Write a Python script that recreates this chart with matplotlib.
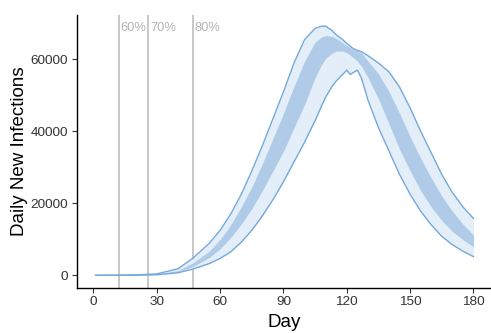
import matplotlib
matplotlib.use("Agg")
import matplotlib.pyplot as plt

plt.rcParams['font.family'] = ['Liberation Sans', 'DejaVu Sans']

day = [1, 10, 20, 30, 40, 47, 55, 60, 65, 70, 75, 80, 85, 90, 95, 100, 105,
       108, 110, 113, 115, 118, 120, 121.5, 123, 125, 127, 130, 135, 140,
       145, 150, 155, 160, 165, 170, 175, 180]

# outer interval (outlined)
hi95 = [0, 20, 100, 400, 1800, 4700, 9000, 12500, 17000, 22500, 29000, 36000,
        43500, 51000, 59000, 65500, 68600, 69200, 69200, 68000, 66800, 65500,
        64400, 63700, 63000, 62500, 62100, 61000, 59000, 56500, 52300, 46500,
        40000, 34000, 28000, 23000, 19000, 15800]
lo95 = [0, 0, 50, 150, 700, 1700, 3300, 4700, 6500, 9200, 12500, 16500,
        21000, 26000, 31500, 37000, 43000, 47000, 49500, 52500, 54000, 55800,
        57000, 55800, 56300, 57000, 54700, 48700, 41000, 34500, 28000, 22500,
        17800, 14000, 10800, 8500, 6700, 5200]

# inner interval
hi50 = [0, 10, 60, 300, 1300, 3400, 6800, 10000, 14000, 19000, 24500, 31000,
        38000, 45000, 52500, 59500, 64800, 66200, 66600, 66400, 65800, 64600,
        63800, 63300, 62800, 62300, 61800, 59500, 56000, 51000, 45000, 38500,
        32500, 27000, 22000, 17800, 14200, 11200]
lo50 = [0, 5, 40, 220, 1000, 2400, 5000, 7400, 10500, 14200, 18500, 23500,
        29000, 34500, 41000, 47500, 55000, 58500, 60300, 61700, 62300, 62300,
        61800, 61200, 60500, 59500, 58000, 55000, 49000, 42000, 35000, 29000,
        23500, 19000, 15200, 12200, 9900, 7900]

# coverage threshold days
thresh_day = [12, 26, 47]
thresh_lab = ["60%", "70%", "80%"]

light = "#E4EEF8"
dark = "#AFCBE8"
edge = "#74A9DC"

fig = plt.figure(figsize=(4.91, 3.33), dpi=100)
ax = fig.add_axes([0.1562, 0.136, 0.8466, 0.8204])

ax.fill_between(day, lo95, hi95, color=light, lw=0, zorder=1)
ax.fill_between(day, lo50, hi50, color=dark, lw=0, zorder=2)
ax.plot(day, hi95, color=edge, lw=1.0, zorder=3)
ax.plot(day, lo95, color=edge, lw=1.0, zorder=3)

for d, lab in zip(thresh_day, thresh_lab):
    ax.axvline(d, color="#BDBDBD", lw=1.2, zorder=0)
    ax.text(d + 0.9, 70300, lab, color="#B3B3B3", fontsize=9.3,
            ha="left", va="top")

ax.set_xlim(-7.95, 188.95)
ax.set_ylim(-3450, 72450)
ax.set_xticks([0, 30, 60, 90, 120, 150, 180])
ax.set_yticks([0, 20000, 40000, 60000])

ax.spines["top"].set_visible(False)
ax.spines["right"].set_visible(False)
for s in ("left", "bottom"):
    ax.spines[s].set_linewidth(1.0)
    ax.spines[s].set_color("black")
ax.tick_params(direction="out", length=3.5, width=0.8, color="#333333",
               labelsize=9.7, labelcolor="#333333", pad=2.5)

ax.set_xlabel("Day", fontsize=13.5, labelpad=4)
ax.set_ylabel("Daily New Infections", fontsize=13.5, labelpad=2)

fig.savefig("out.png", dpi=100)
